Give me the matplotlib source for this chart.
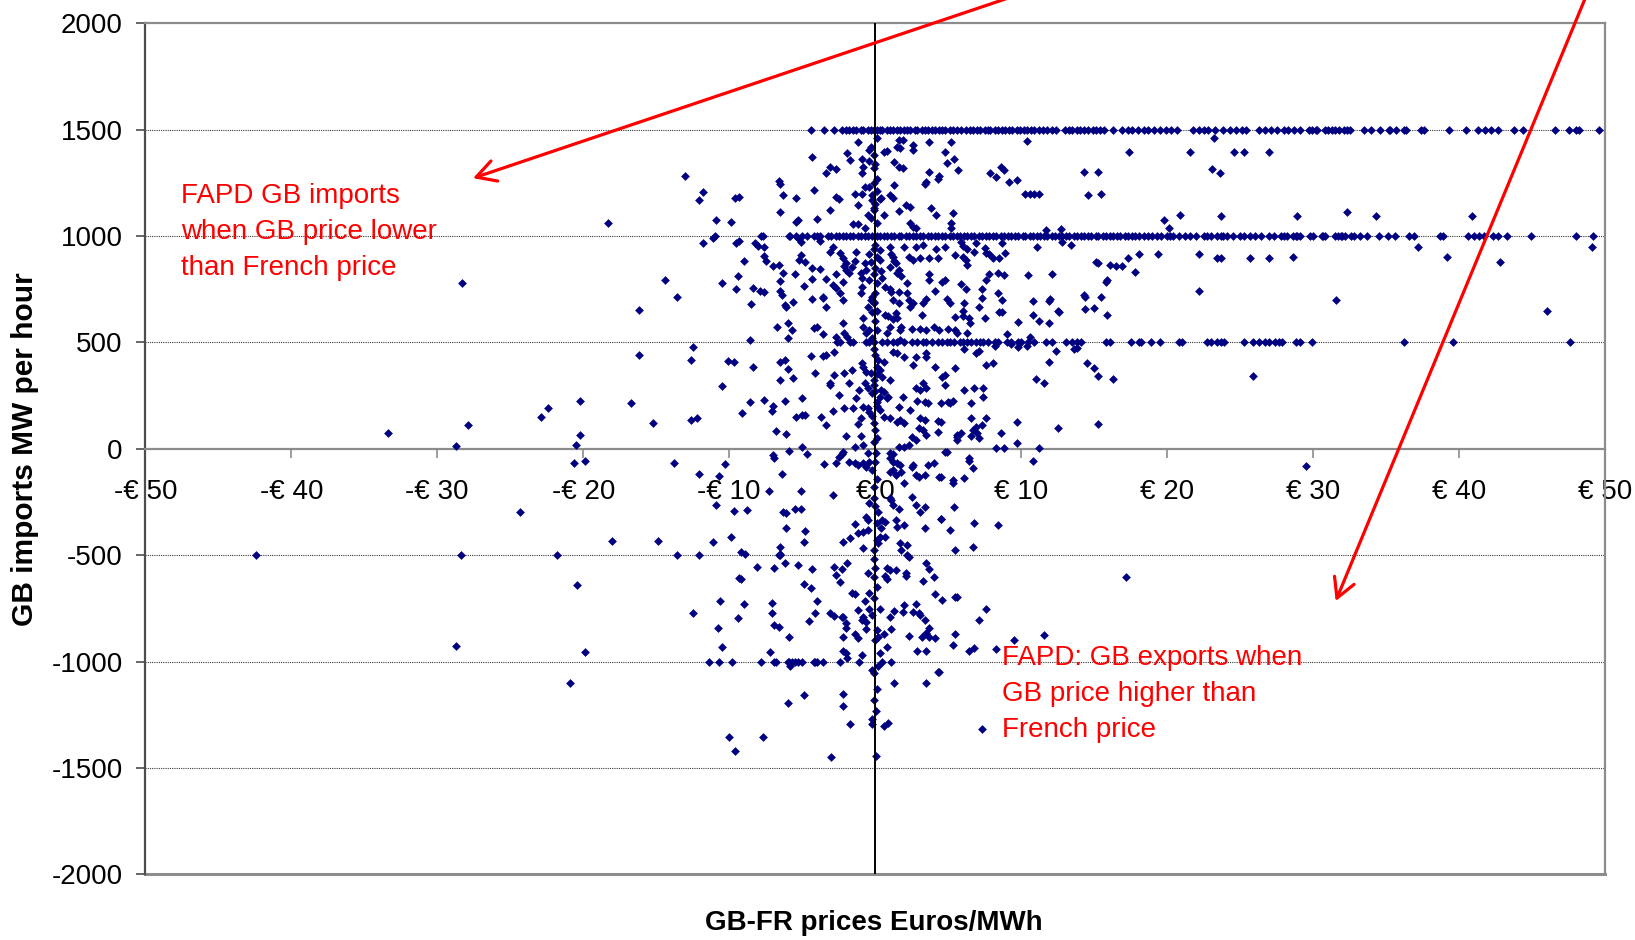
import matplotlib
matplotlib.use("Agg")
import matplotlib.pyplot as plt
import numpy as np

plt.rcParams['font.family'] = ['Liberation Sans', 'DejaVu Sans']
plt.rcParams['axes.unicode_minus'] = False

# ---- interconnector flows at the capacity steps (price spread in EUR/MWh) ----
band_1500_prices = [
    -4.4, -3.5, -2.8, -2.3, -2.0, -1.8, -1.5, -1.3, -1.0, -0.8, -0.5, -0.3, -0.1,
    0.1, 0.3, 0.5, 0.8, 1.0, 1.2, 1.5, 1.7, 2.0, 2.2, 2.4, 2.7, 2.9, 3.2, 3.4, 3.6,
    3.9, 4.1, 4.4, 4.6, 4.8, 5.1, 5.3, 5.6, 5.9, 6.2, 6.5, 6.7, 7.0, 7.2, 7.5, 7.7,
    7.9, 8.2, 8.4, 8.7, 8.9, 9.2, 9.4, 9.7, 9.9, 10.2, 10.4, 10.7, 10.9, 11.2, 11.5,
    11.8, 12.1, 12.4, 13.0, 13.3, 13.5, 13.8, 14.0, 14.3, 14.6, 14.9, 15.1, 15.4,
    15.7, 16.3, 16.9, 17.3, 17.6, 18.0, 18.4, 18.7, 19.1, 19.5, 19.9, 20.3, 20.7,
    21.8, 22.2, 22.5, 22.8, 23.3, 23.8, 24.3, 24.7, 25.1, 25.4, 26.3, 26.7, 27.1,
    27.5, 28.0, 28.3, 28.7, 29.1, 29.7, 29.9, 30.2, 30.3, 30.8, 31.0, 31.3, 31.5,
    31.8, 32.1, 32.3, 32.5, 33.5, 34.0, 34.6, 35.2, 35.3, 35.7, 36.2, 36.4, 37.4,
    37.6, 39.3, 40.5, 41.3, 41.8, 42.2, 42.7, 43.8, 44.4, 46.6, 47.5, 48.0, 48.2,
    49.6,
]
band_1000_prices = [
    -11.0, -7.8, -7.7, -5.9, -5.8, -5.4, -5.0, -4.7, -4.2, -4.0, -3.8, -3.2, -3.0,
    -2.7, -2.5, -2.2, -2.0, -1.7, -1.5, -1.2, -1.0, -0.7, -0.5, -0.2, 0.1, 0.3, 0.6,
    0.8, 1.1, 1.3, 1.6, 1.8, 2.1, 2.3, 2.6, 2.8, 3.1, 3.3, 3.6, 3.8, 4.1, 4.3, 4.6,
    4.8, 5.1, 5.3, 5.6, 5.8, 6.1, 6.3, 6.6, 6.8, 7.1, 7.3, 7.6, 7.8, 8.1, 8.3, 8.6,
    8.8, 9.1, 9.3, 9.6, 9.8, 10.1, 10.3, 10.6, 10.8, 11.1, 11.3, 11.6, 11.8, 12.1,
    12.3, 12.6, 12.8, 13.1, 13.3, 13.6, 13.8, 14.1, 14.3, 14.6, 14.8, 15.1, 15.3,
    15.6, 15.8, 16.1, 16.3, 16.6, 16.8, 17.1, 17.3, 17.6, 17.8, 18.1, 18.4, 18.7,
    19.0, 19.3, 19.6, 20.0, 20.2, 20.4, 20.8, 21.2, 21.6, 22.0, 22.5, 22.7, 23.0,
    23.4, 23.7, 23.8, 24.1, 24.5, 25.0, 25.3, 25.7, 26.0, 26.4, 27.0, 27.3, 27.8,
    28.0, 28.2, 28.6, 28.8, 28.9, 29.1, 29.8, 30.0, 30.6, 30.7, 30.8, 31.5, 31.7,
    31.9, 32.0, 32.2, 32.6, 32.8, 33.2, 33.7, 34.5, 35.1, 35.6, 36.6, 36.9, 38.7,
    38.9, 40.6, 41.0, 41.4, 41.7, 42.3, 42.7, 43.3, 44.9, 48.0, 49.2,
]
band_500_prices = [
    -2.6, -2.4, -1.7, -1.5, -0.6, -0.4, -0.1, 0.5, 0.8, 1.2, 1.5, 2.0, 2.5, 2.9,
    3.3, 3.5, 3.9, 4.3, 4.6, 4.9, 5.1, 5.4, 5.8, 6.0, 6.3, 6.6, 6.9, 7.2, 7.4, 7.7,
    8.2, 8.4, 9.0, 9.3, 9.8, 10.0, 10.5, 10.9, 11.7, 12.1, 13.1, 13.5, 13.8, 14.1,
    15.8, 16.1, 17.5, 18.1, 18.2, 18.9, 19.5, 20.8, 21.0, 22.7, 23.0, 23.4, 23.7,
    23.9, 25.3, 25.9, 26.3, 26.7, 27.0, 27.4, 27.7, 27.9, 28.8, 29.1, 29.9, 36.2,
    39.6, 47.6,
]
band_minus500_prices = [-42.4, -28.4, -21.8, -13.6, -12.1, -6.6, -6.5, 2.2]
band_minus1000_prices = [
    -11.4, -10.7, -9.8, -7.8, -6.9, -6.8, -6.0, -5.9, -5.7, -5.5, -5.3, -5.0, -4.2,
    -4.1, -4.0, -3.6, -2.4, -1.1, 0.5, 1.1,
]

# ---- remaining hourly observations: (price spread, GB imports MW) ----
hourly_price = [
    # far left
    -28.3, -33.4, -27.9, -28.7, -28.7,
    -18.3, -16.2, -16.2, -20.2, -22.4, -22.9, -16.7, -15.2, -20.2, -20.5, -20.6,
    -19.9, -24.3, -18.0, -14.9, -20.4, -19.9, -20.9,
    # upper centre
    -1.2, -4.3, -1.9, -1.7, -0.9, -0.4, -0.4, -0.8, -0.9, -0.1, -0.3,
    -13.0, -11.8, -12.1, -9.6, -9.3, -10.9, -9.9, -6.6, -6.5, -6.3, -5.4, -6.5,
    -5.4, -5.3, -4.2, -4.0, -3.4, -3.1, -2.7, -2.7, -2.5, -3.1, -1.4, -0.9, -0.7,
    -0.4, -1.2, -0.2, -0.2, -0.1, -0.3, -0.5, -1.5, -1.2, -0.7, 0.4,
    0.8, 0.6, 1.6, 1.9, 1.5, 1.7, 2.6, 2.6, 3.7, 5.2, 4.8, 5.4, 4.9, 5.7, 1.3, 1.6,
    1.9, 3.7, 4.4, 4.3, 3.5, 3.4, 1.3, 1.0, 1.2, 0.3, 2.1, 2.4, 1.6, 3.8, 4.2, 5.3,
    0.6, 2.4, 2.6, 2.8, 5.2, 5.2,
    # 1000 .. 500 MW
    -14.4, -13.6, -11.8, -11.1, -10.5, -9.5, -9.3, -9.5, -9.4, -9.0, -8.6, -8.4,
    -7.9, -7.6, -8.5, -8.2, -8.0, -7.6, -7.6, -7.5, -7.0, -6.6, -6.3, -6.5, -6.5,
    -6.4, -6.2, -6.1, -5.6, -6.7, -6.0, -5.7, -6.0, -5.5, -5.3, -5.1, -5.1, -5.2,
    -4.8, -4.9, -4.3, -4.3, -4.3, -4.2, -4.0, -3.8, -3.6, -3.6, -3.4, -3.6, -3.8,
    -3.4, -2.9, -2.7, -2.4, -2.2, -2.2, -2.7, -3.1, -2.9, -2.4, -2.2, -2.1, -2.0,
    -1.8, -2.0, -1.6, -1.4, -1.3, -1.0, -0.9, -0.9, -1.0, -0.7, -0.6, -0.4, -0.3,
    -0.4, -0.3, -0.2, -0.1, -0.5, -0.2, -0.8, -0.8, -0.6, -0.4, -0.2, -2.2, -1.9,
    -2.1, -2.7,
    0.3, 0.3, 0.4, 0.5, 1.0, 1.1, 1.2, 1.3, 1.4, 1.0, 1.5, 1.6, 1.8, 0.7, 1.0, 1.1,
    1.6, 1.2, 2.2, 2.3, 2.6, 2.0, 2.8, 3.3, 3.1, 3.7, 3.7, 3.7, 4.2, 4.8, 5.5, 4.3,
    4.1, 4.6, 4.8, 4.9, 5.1, 5.5, 3.5, 3.3, 3.2, 2.4, 2.6, 2.2, 2.3, 1.6, 1.4, 1.5,
    1.2, 0.7, 0.9, 1.0, 1.7, 1.8, 2.5, 3.1, 3.5, 4.0, 4.4, 5.0, 5.5, 5.6, 0.8, 1.7,
    # 500 .. -600 MW, left of zero
    -12.6, -12.5, -10.1, -9.7, -10.5, -12.6, -12.2, -8.4, -8.6, -9.1, -7.6, -7.1,
    -7.0, -6.2, -5.6, -6.0, -6.5, -6.2, -6.5, -6.8, -6.1, -5.0, -5.4, -5.0, -4.8,
    -4.4, -4.1, -3.6, -3.4, -2.8, -3.1, -3.1, -2.8, -2.5, -2.9, -3.4, -3.7, -2.1,
    -1.8, -2.1, -1.5, -1.3, -1.1, -1.6, -0.9, -0.8, -0.6, -0.3, -0.7, -0.5, -0.2,
    -0.1, -0.5, -0.4, -0.2, -0.8, -1.0, -1.2, -2.0, -1.4, -1.0, -0.8, -2.3, -2.5,
    -2.2, -1.8, -1.4, -1.2, -0.8, -0.6, -0.4, -0.2, -0.5, 0.05, -2.7, -3.5, -4.7,
    -5.0, -5.9, -7.0, -6.9, -6.4, -7.3, -2.9, -5.1, -5.5, -5.1, -6.3, -6.1, -6.1,
    -4.8, -4.9, -5.3, -6.5, -6.5, -6.2, -6.9, -9.2, -8.9, -8.1, -9.3, -9.9, -9.7,
    -8.8, -10.9, -11.1, -12.1, -10.7, -10.3, -13.8, -4.3, -2.8, -2.3, -2.7, -1.7,
    -2.2, -1.4, -1.2, -0.8, -0.6, -0.5, -0.5, -0.4, -0.1, 0.2, 0.1, 0.2, 0.3, 0.7,
    -0.8, -0.1, -0.5, -0.1,
    # 500 .. -600 MW, right of zero
    0.2, 0.6, 0.1, 0.3, 0.5, 1.0, 0.4, 0.6, 0.3, 0.8, 0.9, 0.1, 0.3, 0.6, 1.0, 1.5,
    1.7, 2.0, 1.2, 1.5, 2.0, 2.6, 2.8, 3.5, 3.5, 4.1, 4.6, 4.8, 5.5, 3.3, 3.5, 2.8,
    3.1, 1.9, 2.9, 3.4, 3.6, 4.8, 5.0, 5.3, 2.4, 1.6, 3.1, 3.4, 4.3, 4.3, 3.0, 3.3,
    3.5, 2.5, 2.8, 2.3, 2.0, 1.6, 1.0, 1.2, 1.0, 1.2, 1.5, 1.7, 1.4, 1.0, 1.2, 1.8,
    2.0, 2.5, 2.6, 2.8, 3.0, 3.4, 3.6, 4.0, 4.4, 4.8, 5.3, 5.3, 5.6, 5.6, 5.4, 5.1,
    5.5, 2.5, 2.8, 3.1, 3.4, 4.5, 3.4, 2.0, 1.4, 1.5, 1.6, 1.2, 1.0, 1.1, 0.5, 0.7,
    0.4, 1.7, 1.8, 2.2, 2.3, 1.4, 2.1, 3.5, 3.7, 4.0, 0.8, 1.0,
    4.5, 5.1, 4.5, 5.6, 5.9, 4.9, 4.5, 4.5,
    # below -600 MW
    -9.2, -12.5, -10.6, -10.8, -10.5, -9.4, -9.0, -7.1, -7.1, -6.9, -6.6, -5.9,
    -7.2, -4.9, -4.4, -4.0, -4.1, -4.5, -3.1, -2.8, -2.3, -2.2, -2.0, -2.0, -2.2,
    -2.2, -2.0, -1.9, -1.6, -1.4, -2.4, -1.2, -0.9, -0.8, -0.6, -0.7, -0.4, -0.4,
    -0.2, -0.6, -1.4, -1.2, -0.9, 0.3, 0.2, 0.1, 0.3, 0.2, -0.2, -0.1, 1.0, 1.3,
    1.9, 2.0, 2.6, 2.8, 3.0, 3.1, 3.4, 3.7, 3.5, 3.7, 4.1, 3.2, 2.3, 1.1, 0.6, 0.8,
    2.9, 3.5, 5.3, 5.5, 4.1, 4.6, 3.3, 4.3, 3.5, 1.3, -2.2, -2.2, -4.9, -6.0, -1.7,
    -0.2, -0.2, 0.05, 0.6, 0.9, -10.0, -7.7, -9.6, -3.0, 0.05, -5.8, -1.9, 0.7,
    0.8, 2.1, 5.5, 5.6, 4.4,
    # right-hand side, above +5.8
    10.4, 7.9, 8.3, 8.6, 8.8, 9.2, 9.7, 10.3, 10.6, 10.9, 11.2, 14.3, 15.3, 14.6,
    15.5, 17.4, 21.6, 23.2, 23.1, 23.6, 24.6, 25.3, 27.0, 19.8, 20.1, 20.9, 23.7,
    11.7, 12.7, 5.9, 6.0, 6.3, 6.9, 6.0, 6.2, 6.3, 6.8, 7.5, 7.6, 7.8, 8.1, 8.5,
    8.9, 8.7, 11.1, 12.8, 13.4, 15.1, 15.3, 16.1, 16.5, 16.9, 17.3, 18.1, 19.4,
    22.2, 23.4, 23.7, 25.7, 27.0, 17.8, 22.2, 10.5, 12.1, 7.8, 8.4, 8.8, 7.6, 5.9,
    6.2, 7.3, 8.4, 7.3, 8.7, 6.1, 7.1, 6.0, 7.5, 6.0, 6.4, 6.5, 8.5, 8.7, 9.8, 10.8,
    10.8, 11.2, 11.9, 12.0, 11.9, 12.5, 12.6, 14.3, 14.4, 14.4, 15.0, 15.5, 15.8,
    15.9, 15.9, 6.3, 9.0, 10.6, 9.8, 10.4, 9.3, 6.1, 6.9, 7.1, 7.6, 8.1, 8.2, 11.0,
    11.6, 11.9, 12.4, 13.6, 13.8, 14.5, 15.0, 15.3, 16.3, 25.9, 6.1, 6.8, 7.4, 7.4,
    6.6, 6.6, 6.7, 6.9, 7.0, 7.1, 7.3, 7.6, 6.6, 8.6, 9.7, 9.7, 8.3, 8.8, 11.2,
    12.5, 15.3, 6.4, 6.4, 6.7, 6.1, 10.8, 6.8, 8.4, 6.7, 17.2, 7.6, 7.1, 6.4, 6.8,
    8.3, 9.5, 11.6, 7.3,
    28.9, 32.3, 34.3, 40.9, 28.6, 37.2, 39.2, 42.8, 49.1, 31.6, 46.0, 29.5,
    # hours on the zero-spread line
    0.1, -0.1, 0.0, 0.1, -0.1, 0.1, 0.0, -0.1, 0.1, 0.0, -0.1, 0.1, 0.0, -0.1,
    0.1, 0.0, -0.1, 0.1, 0.0, 0.1, -0.1, 0.0, 0.1, -0.1, 0.0, 0.1, -0.1, 0.0, 0.1,
    -0.1, 0.0, 0.1, -0.1, 0.0, 0.1, -0.1, 0.0, 0.1, -0.1, 0.0, 0.1, -0.1,
]
hourly_flow = [
    781, 73, 112, 13, -927,
    1061, 653, 439, 223, 192, 149, 214, 119, 63, 20, -65,
    -58, -299, -432, -432, -639, -957, -1099,
    1443, 1370, 1389, 1357, 1360, 1404, 1353, 1326, 1298, 1318, 1420,
    1282, 1208, 1169, 1177, 1182, 1075, 1067, 1258, 1247, 1193, 1180, 1111,
    1065, 1075, 1216, 1080, 1298, 1326, 1313, 1185, 1172, 1122, 1198, 1198, 1229,
    1229, 1146, 1193, 1169, 1122, 1083, 1099, 1056, 1056, 1036, 1177,
    1398, 1393, 1451, 1451, 1420, 1412, 1428, 1404, 1443, 1443, 1393, 1360, 1345, 1310, 1350, 1326,
    1318, 1302, 1282, 1268, 1255, 1247, 1240, 1193, 1177, 1175, 1146, 1138, 1119, 1130, 1099, 1107,
    1099, 1060, 1044, 1036, 1060, 1036,
    793, 715, 969, 990, 777, 967, 978, 751, 813, 884, 513, 755,
    744, 736, 680, 967, 955, 947, 908, 884, 859, 864, 825, 790, 743,
    723, 676, 668, 692, 574, 593, 558, 519, 820, 989, 973, 910, 887,
    876, 766, 851, 796, 702, 566, 574, 843, 715, 707, 668, 541, 975,
    796, 770, 755, 731, 699, 785, 822, 926, 949, 918, 895, 860, 840,
    825, 871, 856, 884, 926, 825, 801, 762, 734, 871, 840, 915, 879,
    793, 699, 715, 684, 668, 645, 613, 574, 543, 558, 519, 592, 527,
    543, 524,
    934, 887, 837, 801, 949, 915, 903, 884, 871, 856, 825, 840, 813, 762, 750, 739,
    739, 699, 780, 903, 887, 949, 949, 957, 897, 897, 820, 793, 938, 949, 910, 897,
    743, 785, 793, 702, 684, 621, 702, 686, 629, 668, 684, 731, 699, 684, 637, 617,
    612, 629, 625, 574, 558, 574, 561, 561, 558, 574, 558, 561, 558, 543, 543, 511,
    417, 479, 413, 410, 295, 135, 146, 386, 221, 166, 229, 179,
    201, 225, 331, 373, 410, 417, 323, 85, 68, 237, 148, 158, 158,
    436, 357, 436, 441, 454, 311, 300, 347, 253, 179, 112, 151, 357,
    308, 190, 190, 237, 276, 370, 402, 386, 362, 355, 308, 284, 261,
    323, 193, 174, 154, 198, 143, 117, 60, 10, 60, 18, -24, -37,
    -13, -61, -69, -77, -69, -87, -61, -100, -18, -21, -69, -72, -26,
    10, -10, -29, -45, -119, -197, -218, -199, -281, -285, -296, -304,
    -374, -385, -437, -548, -460, -494, -538, -562, -484, -494, -554, -609, -416, -293,
    -288, -265, -437, -119, -127, -72, -65, -566, -554, -567, -593, -421,
    -440, -354, -395, -390, -319, -335, -382, -257, -233, -296, -429, -445, -413, -413,
    -468, -476, -586, -601,
    417, 410, 386, 370, 339, 323, 276, 269, 245, 237, 245, 221, 182, 148, 143, 128,
    135, 120, 457, 452, 433, 394, 433, 449, 433, 386, 339, 347, 379, 308, 284, 284,
    276, 245, 226, 221, 213, 300, 221, 226, 182, 198, 143, 135, 132, 80, 96, 88,
    65, 57, 41, 18, 7, 10, -18, -24, -45, -61, -69, -77, -124, -108, -100, -108,
    -163, -87, -77, -124, -131, -124, -77, -69, -131, -13, -146, -162, 41, 57, -273, -382,
    -476, -226, -265, -296, -273, -332, -370, -359, -335, -367, -281, -265, -233, -240, -335, -343,
    -374, -445, -476, -452, -507, -570, -586, -538, -566, -601, -562, -570,
    217, 217, 127, 65, 72, -14, -131, -331,
    -612, -774, -714, -840, -930, -797, -730, -723, -770, -829, -837, -886,
    -957, -636, -656, -716, -771, -808, -771, -785, -789, -789, -820, -844, -883,
    -949, -962, -985, -676, -682, -625, -758, -805, -789, -813, -714, -679, -755,
    -781, -849, -871, -887, -967, -755, -883, -852, -962, -1021, -1040, -1056, -792, -761,
    -766, -734, -766, -729, -770, -781, -805, -844, -864, -883, -887, -883, -880, -849, -871, -930,
    -949, -949, -922, -872, -684, -711, -622, -1051, -1103, -1100, -1153, -1207, -1157, -1196, -1294,
    -1270, -1294, -1233, -1301, -1291, -1353, -1353, -1421, -1447, -1443, -1021, -539, -600,
    -614, -598, -696, -696, -1048,
    1448, 1298, 1276, 1326, 1310, 1252, 1263, 1197, 1197, 1197, 1197, 1302, 1302, 1193,
    1197, 1394, 1394, 1460, 1313, 1298, 1394, 1394, 1394, 1075, 1036, 1099, 1094,
    1028, 1031, 973, 951, 938, 965, 903, 887, 864, 926, 942, 918, 915, 899, 899,
    918, 965, 949, 973, 957, 880, 872, 864, 859, 859, 895, 915, 915,
    915, 899, 899, 899, 899, 830, 743, 817, 821, 822, 827, 819, 793, 774,
    749, 749, 733, 707, 699, 684, 665, 649, 613, 624, 613, 592, 641, 641, 597, 696,
    629, 603, 696, 702, 590, 649, 645, 723, 715, 655, 660, 712, 785,
    793, 629, 543, 539, 527, 480, 483, 492, 467, 451, 461, 393, 401, 481, 326,
    311, 409, 461, 467, 476, 401, 378, 342, 326, 342, 276, 284, 284, 245,
    214, 60, 88, 104, 72, 53, 112, 143, 143, 76, 127, 29, 5, 5, 2,
    96, 116, -45, -56, -92, -136, -57, -351, -359, -463, -601, -755, -805, -949, -938,
    -943, -899, -876, -1319,
    1092, 1115, 1092, 1092, 900, 948, 900, 880, 948, 700, 646, -83,
    1460, 1380, 1340, 1270, 1250, 1210, 1150, 1130, 1060, 960, 940, 900, 850, 820,
    780, 730, 690, 650, 600, 560, 470, 440, 350, 300, 270, 200, 120, 90, 50,
    30, -60, -140, -180, -270, -350, -520, -560, -650, -700, -900, -1130, -1180,
]

x_ticks = [-50, -40, -30, -20, -10, 0, 10, 20, 30, 40, 50]
x_tick_labels = ['-€ 50', '-€ 40', '-€ 30', '-€ 20', '-€ 10', '€ 0',
                 '€ 10', '€ 20', '€ 30', '€ 40', '€ 50']
y_ticks = [-2000, -1500, -1000, -500, 0, 500, 1000, 1500, 2000]

# assemble every hour into one series
bands = [(1500, band_1500_prices), (1000, band_1000_prices), (500, band_500_prices),
         (-500, band_minus500_prices), (-1000, band_minus1000_prices)]
prices = list(hourly_price)
flows = list(hourly_flow)
for level, plist in bands:
    prices += plist
    flows += [level] * len(plist)

fig = plt.figure(figsize=(16.35, 9.40), dpi=100)
ax = fig.add_axes([0.08887, 0.06989, 0.89278, 0.90532])

ax.scatter(prices, flows, marker='D', s=20, c='#000080', linewidths=0, zorder=3)

ax.set_xlim(-50, 50)
ax.set_ylim(-2000, 2000)

# horizontal gridlines
for yv in [-1500, -1000, -500, 500, 1000, 1500]:
    ax.axhline(yv, color='#3a3a3a', lw=0.8, ls=(0, (1, 1)), zorder=1)

# frame
for side in ['top', 'right']:
    ax.spines[side].set_color('#8c8c8c')
    ax.spines[side].set_linewidth(1.6)
ax.spines['left'].set_color('#4d4d4d')
ax.spines['left'].set_linewidth(1.6)
ax.spines['bottom'].set_position(('data', 0))
ax.spines['bottom'].set_color('#8c8c8c')
ax.spines['bottom'].set_linewidth(1.6)
ax.axhline(-2000, color='#8c8c8c', lw=2.2, clip_on=False, zorder=2)
ax.axvline(0, color='black', lw=1.4, zorder=4)

ax.set_xticks(x_ticks)
ax.set_xticklabels(x_tick_labels)
ax.set_yticks(y_ticks)
ax.tick_params(axis='x', direction='out', length=6.5, width=1.2, color='#8c8c8c',
               labelsize=20, pad=15.5)
ax.tick_params(axis='y', direction='out', length=6.2, width=1.2, color='#4d4d4d',
               labelsize=20, pad=10)

fig.text(0.0153, 0.5226, 'GB imports MW per hour', rotation=90, ha='center',
         va='center', fontsize=21.5, fontweight='bold')
fig.text(0.5346, 0.0181, 'GB-FR prices Euros/MWh', ha='center', va='center',
         fontsize=20, fontweight='bold')

ax.text(-47.55, 1250, 'FAPD GB imports\nwhen GB price lower\nthan French price',
        color='red', fontsize=20, ha='left', va='top', linespacing=1.5, zorder=5)
ax.text(8.68, -920, 'FAPD: GB exports when\nGB price higher than\nFrench price',
        color='red', fontsize=20, ha='left', va='top', linespacing=1.5, zorder=5)

arrow_style = dict(arrowstyle='->,head_length=0.69,head_width=0.38', color='red',
                   lw=2.3, mutation_scale=20, shrinkA=0, shrinkB=0)
ax.annotate('', xy=(-27.55, 1272), xytext=(10.9, 2160), arrowprops=arrow_style,
            annotation_clip=False, zorder=6)
ax.annotate('', xy=(31.55, -716), xytext=(48.9, 2160), arrowprops=arrow_style,
            annotation_clip=False, zorder=6)

fig.savefig('out.png', dpi=100)
